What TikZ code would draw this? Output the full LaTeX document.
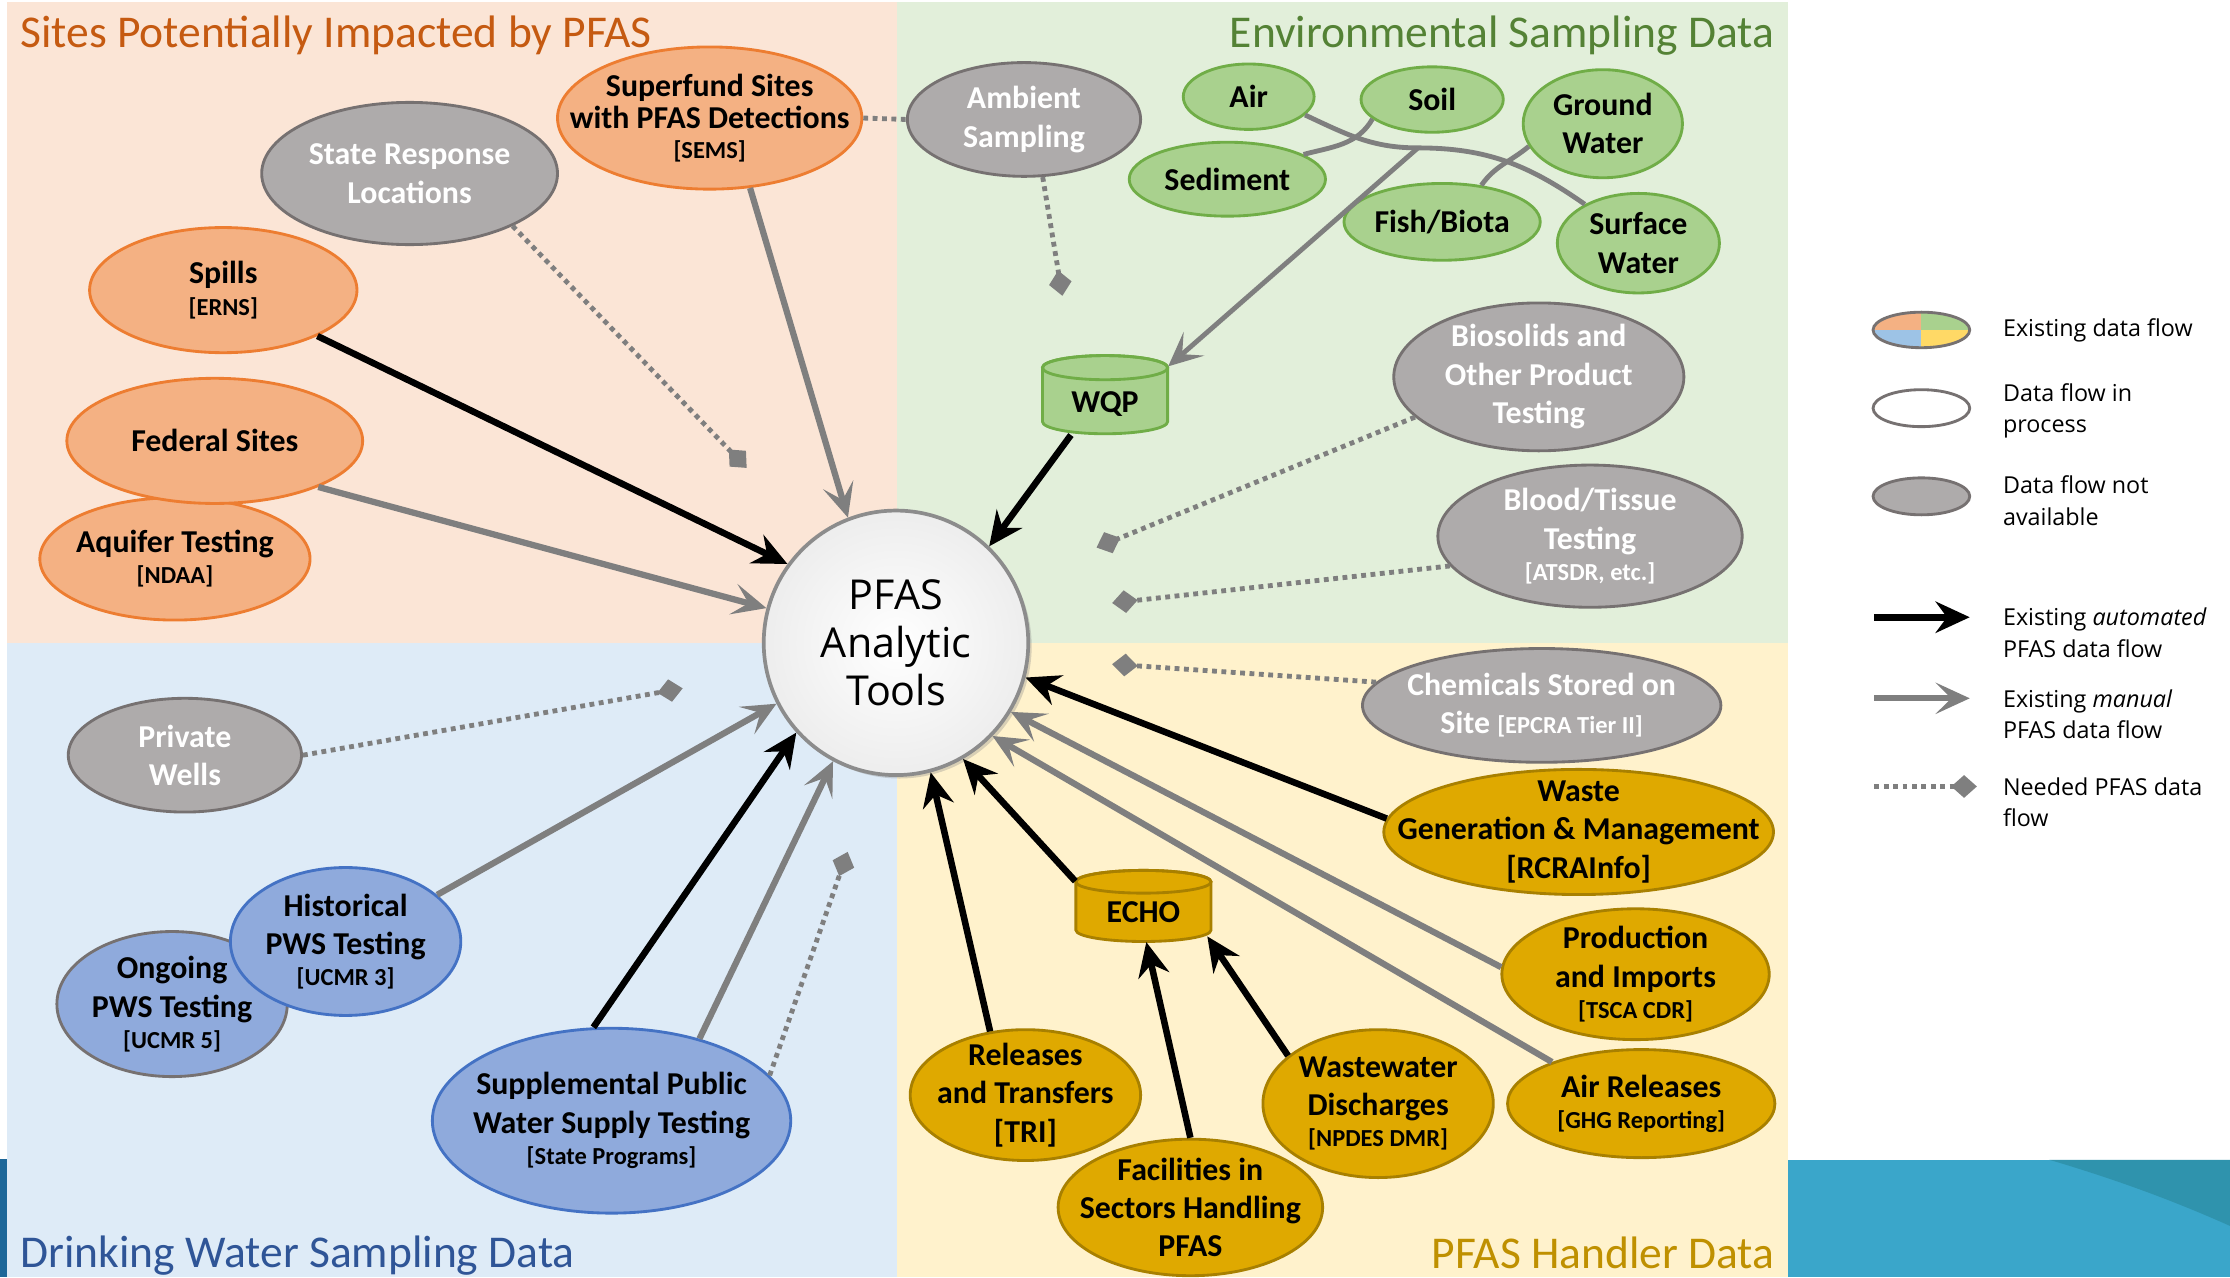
\documentclass[tikz,border=0pt]{standalone}
\usepackage{fontspec}
\setmainfont{Carlito}
\newfontfamily\lgfont{Open Sans}
\usetikzlibrary{shapes.geometric,arrows.meta,shadows}

\definecolor{OrBg}{HTML}{FBE5D6}
\definecolor{GrBg}{HTML}{E2EFDA}
\definecolor{BlBg}{HTML}{DEEBF7}
\definecolor{YeBg}{HTML}{FFF2CC}
\definecolor{OrFill}{HTML}{F4B183}
\definecolor{OrLine}{HTML}{ED7D31}
\definecolor{GyFill}{HTML}{AEABAB}
\definecolor{GyLine}{HTML}{767171}
\definecolor{GrFill}{HTML}{A9D18E}
\definecolor{GrLine}{HTML}{70AD47}
\definecolor{BlFill}{HTML}{8FAADC}
\definecolor{BlLine}{HTML}{4472C4}
\definecolor{GoFill}{HTML}{DFA900}
\definecolor{GoLine}{HTML}{A88000}
\definecolor{OrTitle}{HTML}{C55A11}
\definecolor{GrTitle}{HTML}{548235}
\definecolor{BlTitle}{HTML}{2F5597}
\definecolor{GoTitle}{HTML}{BF9000}
\definecolor{FlowGray}{HTML}{7F7F7F}
\definecolor{CircLine}{HTML}{8C8C8C}
\definecolor{Teal}{HTML}{3AA6CA}
\definecolor{TealDark}{HTML}{2F93AD}
\definecolor{SlideBlue}{HTML}{1D6799}
\definecolor{LgBlue}{HTML}{9DC3E6}
\definecolor{LgYellow}{HTML}{FFD966}

\newcommand\smtxt[1]{{\fontsize{8.6}{10}\selectfont #1}}
\newcommand\enode[8]{%
  \node[#2, minimum width=#6pt, minimum height=#7pt] (#1) at (#4,#5) {};
  \node[#3] (#1-t) at (#1.center) {#8};}

\begin{document}
\begin{tikzpicture}[x=0.5pt,y=-0.5pt,
  ell/.style={ellipse, inner sep=0pt, line width=1pt},
  eor/.style={ell, fill=OrFill, draw=OrLine},
  egy/.style={ell, fill=GyFill, draw=GyLine},
  egr/.style={ell, fill=GrFill, draw=GrLine},
  ebl/.style={ell, fill=BlFill, draw=BlLine},
  ego/.style={ell, fill=GoFill, draw=GoLine},
  ntxt/.style={align=center, inner sep=0pt, font=\bfseries\fontsize{11.2}{13.5}\selectfont},
  ntight/.style={font=\bfseries\fontsize{11.2}{11.5}\selectfont},
  wtxt/.style={ntxt, text=white},
  ttl/.style={inner sep=0pt, font=\fontsize{16}{19}\selectfont},
  cyltxt/.style={rectangle, inner sep=0pt, text height=12.5pt, text depth=0pt, font=\bfseries\fontsize{11.2}{13.5}\selectfont},
  autoflow/.style={line width=2.3pt, draw=black, -{Stealth[length=12pt,width=11pt,inset=4pt]}},
  manflow/.style={line width=2.2pt, draw=FlowGray, -{Stealth[length=12pt,width=11pt,inset=5.5pt]}},
  thinman/.style={manflow, line width=1.7pt},
  needflow/.style={line width=1.7pt, draw=FlowGray, dash pattern=on 1.7pt off 1.6pt, -{Diamond[length=9pt,width=8pt]}},
  linkline/.style={line width=1.7pt, draw=FlowGray},
  lgtxt/.style={anchor=west, align=left, inner sep=0pt, font=\lgfont\fontsize{8.2}{11}\selectfont}
]
\useasboundingbox (0,0) rectangle (1568,898);
% backgrounds
\fill[white] (0,0) rectangle (1568,898);
\fill[OrBg] (5,1.5) rectangle (631,452);
\fill[GrBg] (631,1.5) rectangle (1257,452);
\fill[BlBg] (5,452) rectangle (631,898);
\fill[YeBg] (631,452) rectangle (1257,898);
\fill[SlideBlue] (0,815) rectangle (5,898);
\fill[Teal] (1257,815.5) rectangle (1568,898);
\fill[TealDark] (1441,815.5) .. controls (1490,830) and (1530,845) .. (1568,862) -- (1568,815.5) -- cycle;

% titles
\node[ttl, text=OrTitle, anchor=west] (t1) at (14,25) {Sites Potentially Impacted by PFAS};
\node[ttl, text=GrTitle, anchor=east] (t2) at (1248,25) {Environmental Sampling Data};
\node[ttl, text=BlTitle, anchor=west] (t3) at (14,883) {Drinking Water Sampling Data};
\node[ttl, text=GoTitle, anchor=east] (t4) at (1248,881) {PFAS Handler Data};

% central circle
\node[circle, minimum size=93pt, inner sep=0pt, draw=CircLine, line width=1.3pt,
      inner color=white, outer color=black!7,
      drop shadow={opacity=0.3, shadow xshift=1.2pt, shadow yshift=-1.2pt},
      align=center, font=\lgfont\fontsize{14.5}{16.75}\selectfont] (circ) at (630,452) {PFAS\\Analytic\\Tools};

% orange
\enode{aqu}{eor}{ntxt}{123}{393}{95}{43}{Aquifer Testing\\[-2.5pt]\smtxt{[NDAA]}}
\enode{fed}{eor}{ntxt}{151}{310}{104}{44}{Federal Sites}
\enode{spills}{eor}{ntxt}{157}{204}{94}{44}{Spills\\[-2.5pt]\smtxt{[ERNS]}}
\enode{sup}{eor}{ntxt,ntight}{499}{83}{107}{50}{Superfund Sites\\with PFAS Detections\\[-1pt]\smtxt{[SEMS]}}
% gray
\enode{srl}{egy}{wtxt}{288}{122}{104}{50}{State Response\\Locations}
\enode{amb}{egy}{wtxt}{720}{84}{82}{40}{Ambient\\Sampling}
\enode{bio}{egy}{wtxt}{1082}{265}{102}{52}{Biosolids and\\Other Product\\Testing}
\enode{blood}{egy}{wtxt}{1118}{377}{107}{50}{Blood/Tissue\\Testing\\[-2.5pt]\smtxt{[ATSDR, etc.]}}
\enode{chem}{egy}{wtxt}{1084}{496}{126}{40}{Chemicals Stored on\\Site \smtxt{[EPCRA Tier II]}}
\enode{priv}{egy}{wtxt}{130}{531}{82}{40}{Private\\Wells}
% green
\enode{air}{egr}{ntxt}{878}{68}{46}{23}{Air}
\enode{soil}{egr}{ntxt}{1007}{70}{50}{23}{Soil}
\enode{gw}{egr}{ntxt}{1127}{87}{56}{38}{Ground\\Water}
\enode{sed}{egr}{ntxt}{863}{126}{69}{26}{Sediment}
\enode{fish}{egr}{ntxt}{1014}{156}{69}{27}{Fish/Biota}
\enode{surf}{egr}{ntxt}{1152}{171}{57}{35}{Surface\\Water}
% blue
\enode{ong}{ebl,draw=GyLine}{ntxt}{121}{706}{81}{51}{Ongoing\\PWS Testing\\[-2.5pt]\smtxt{[UCMR 5]}}
\enode{hist}{ebl}{ntxt}{243}{662}{81}{52}{Historical\\PWS Testing\\[-2.5pt]\smtxt{[UCMR 3]}}
\enode{supp}{ebl}{ntxt}{430}{788}{126}{65}{Supplemental Public\\Water Supply Testing\\[-2.5pt]\smtxt{[State Programs]}}
% gold
\enode{waste}{ego}{ntxt}{1110}{585}{137}{44}{Waste\\Generation \& Management\\{[RCRAInfo]}}
\enode{prod}{ego}{ntxt}{1150}{685}{94}{46}{Production\\and Imports\\[-2.5pt]\smtxt{[TSCA CDR]}}
\enode{airrel}{ego}{ntxt}{1154}{776}{94}{38}{Air Releases\\[-2.5pt]\smtxt{[GHG Reporting]}}
\enode{rel}{ego}{ntxt}{721}{770}{81}{46}{Releases\\and Transfers\\{[TRI]}}
\enode{ww}{ego}{ntxt}{969}{776}{81}{52}{Wastewater\\Discharges\\[-2.5pt]\smtxt{[NPDES DMR]}}
\enode{fac}{ego}{ntxt}{837}{849}{93}{48}{Facilities in\\Sectors Handling\\PFAS}

% cylinders
\begin{scope}[shift={(777,277.5)}]
  \filldraw[fill=GrFill, draw=GrLine, line width=1pt] (-22pt,9.5pt) -- (-22pt,-9.5pt)
    arc[start angle=180, end angle=360, x radius=22pt, y radius=4.25pt] -- (22pt,9.5pt)
    arc[start angle=0, end angle=180, x radius=22pt, y radius=4.25pt] -- cycle;
  \draw[GrLine, line width=1pt] (0pt,9.5pt) ellipse [x radius=22pt, y radius=4.25pt];
\end{scope}
\node[cyltxt, minimum width=44pt, minimum height=28pt] (wqp) at (777,277.5) {WQP};
\begin{scope}[shift={(804,637)}]
  \filldraw[fill=GoFill, draw=GoLine, line width=1pt] (-23.75pt,8.5pt) -- (-23.75pt,-8.5pt)
    arc[start angle=180, end angle=360, x radius=23.75pt, y radius=4pt] -- (23.75pt,8.5pt)
    arc[start angle=0, end angle=180, x radius=23.75pt, y radius=4pt] -- cycle;
  \draw[GoLine, line width=1pt] (0pt,8.5pt) ellipse [x radius=23.75pt, y radius=4pt];
\end{scope}
\node[cyltxt, text height=11.5pt, minimum width=47.5pt, minimum height=25pt] (echo) at (804,637) {ECHO};

% environmental links
\coordinate (jn) at (997,104);
\draw[linkline] (air.342) to[out=-25,in=180] (jn) to[out=0,in=145] (surf.144);
\draw[linkline] (soil.198) to[out=240,in=15] (sed.18);
\draw[linkline] (gw.197) to[out=220,in=55] (fish.43);
\draw[thinman] (jn) -- ([yshift=-4.25pt]wqp.north east);

% flows into the tools
\draw[autoflow] (spills.334) -- (circ.144);
\draw[manflow] (fed.336) -- (circ.165);
\draw[manflow] (sup.300) -- (circ.111);
\draw[autoflow] ([xshift=-12pt]wqp.south) -- (circ.46);
\draw[manflow] (hist.27) -- (circ.207);
\draw[autoflow] (supp.101) -- (circ.222);
\draw[manflow] (supp.43) -- (circ.242);
\draw[autoflow] (waste.176) -- (circ.345);
\draw[manflow] (prod.177) -- (circ.329);
\draw[manflow] (airrel.155) -- (circ.316);
\draw[autoflow] ([yshift=-4pt]echo.north west) -- (circ.300);
\draw[autoflow] (rel.119) -- (circ.285);
\draw[autoflow] (fac.north) -- ([xshift=1pt]echo.south);
\draw[autoflow] (ww.152) -- ([xshift=-1.5pt,yshift=2pt]echo.south east);

% needed flows
\coordinate (d1) at (525,329);
\coordinate (d2) at (747,208);
\coordinate (d3) at (771,385);
\coordinate (d4) at (782,424);
\coordinate (d5) at (782,467);
\coordinate (d6) at (480,484);
\coordinate (d7) at (596,599);
\draw[needflow] (srl.333) -- (d1);
\draw[needflow] (amb.288) -- (d2);
\draw[needflow] (bio.198) -- (d3);
\draw[needflow] (blood.192) -- (d4);
\draw[needflow] (chem.172) -- (d5);
\draw[needflow] (priv.east) -- (d6);
\draw[needflow] (supp.16) -- (d7);
\draw[needflow, -] (sup.east) -- (amb.west);

% legend
\begin{scope}
  \clip (1351,232) ellipse [x radius=17pt, y radius=6.25pt];
  \fill[OrFill] (1317,219) rectangle (1351,232);
  \fill[GrFill] (1351,219) rectangle (1385,232);
  \fill[LgBlue] (1317,232) rectangle (1351,245);
  \fill[LgYellow] (1351,232) rectangle (1385,245);
\end{scope}
\node[ell, draw=GyLine, minimum width=34pt, minimum height=12.5pt] (lg1) at (1351,232) {};
\node[ell, draw=GyLine, fill=white, minimum width=34pt, minimum height=13pt] (lg2) at (1351,287) {};
\node[egy, minimum width=34pt, minimum height=13pt] (lg3) at (1351,349) {};
\coordinate (la1) at (1318,434); \coordinate (lb1) at (1385,434);
\coordinate (la2) at (1318,491); \coordinate (lb2) at (1385,491);
\coordinate (la3) at (1318,553); \coordinate (lb3) at (1390,553);
\draw[autoflow] (la1) -- (lb1);
\draw[manflow] (la2) -- (lb2);
\draw[needflow] (la3) -- (lb3);
\node[lgtxt] (l1) at (1408,232) {Existing data flow};
\node[lgtxt] (l2) at (1408,289) {Data flow in\\process};
\node[lgtxt] (l3) at (1408,352) {Data flow not\\available};
\node[lgtxt] (l4) at (1408,445) {Existing \textit{automated}\\PFAS data flow};
\node[lgtxt] (l5) at (1408,502) {Existing \textit{manual}\\PFAS data flow};
\node[lgtxt] (l6) at (1408,564) {Needed PFAS data\\flow};
\end{tikzpicture}
\end{document}
